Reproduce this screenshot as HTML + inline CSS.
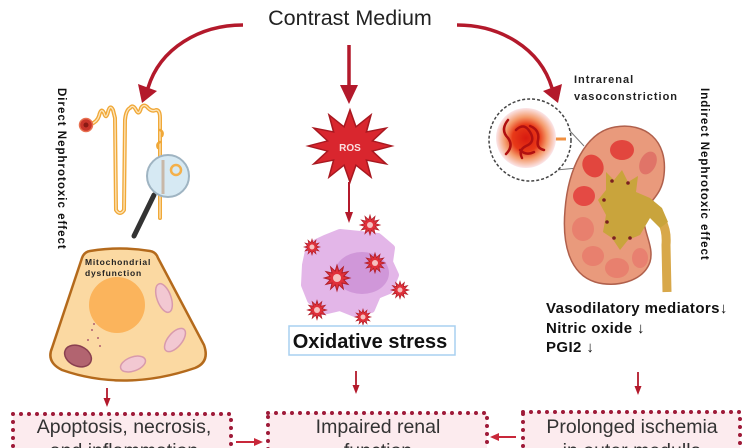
<!DOCTYPE html>
<html><head><meta charset="utf-8"><style>
html,body{margin:0;padding:0;background:#fff;width:750px;height:448px;overflow:hidden}
svg{display:block;overflow:hidden}
text{font-family:"Liberation Sans",Arial,sans-serif}
</style></head><body>
<svg width="750" height="448" viewBox="0 0 750 448" xmlns="http://www.w3.org/2000/svg">
<defs>
<polygon id="st" points="40,0 21.3,5.7 34.6,20 15.6,15.6 20,34.6 5.7,21.3 0,40 -5.7,21.3 -20,34.6 -15.6,15.6 -34.6,20 -21.3,5.7 -40,0 -21.3,-5.7 -34.6,-20 -15.6,-15.6 -20,-34.6 -5.7,-21.3 0,-40 5.7,-21.3 20,-34.6 15.6,-15.6 34.6,-20 21.3,-5.7"/>
<radialGradient id="gl" cx="0.5" cy="0.5" r="0.5">
<stop offset="0" stop-color="#d81a10"/><stop offset="0.45" stop-color="#e83a18"/><stop offset="0.7" stop-color="#f49a6a"/><stop offset="1" stop-color="#fbe6ea"/>
</radialGradient>
<clipPath id="pg"><rect x="0" y="0" width="750" height="448"/></clipPath>
</defs>
<g clip-path="url(#pg)">
<!-- Title -->
<text x="350" y="25" font-size="21.5" fill="#222" text-anchor="middle">Contrast Medium</text>

<!-- main arrows -->
<g fill="none" stroke="#b3192b" stroke-width="3.5">
<path d="M243 25 C200 25 160 48 148 88"/>
<path d="M457 25 C500 25 540 48 552 88"/>
<line x1="349" y1="45" x2="349" y2="88"/>
</g>
<g fill="#b3192b">
<polygon points="142,103 138,84 157,91"/>
<polygon points="558,103 562,84 543,91"/>
<polygon points="349,104 340,85 358,85"/>
</g>

<!-- rotated labels -->
<text transform="translate(58,88) rotate(90)" font-size="11.5" letter-spacing="1" font-weight="bold" fill="#111">Direct Nephrotoxic effect</text>
<text transform="translate(701,88) rotate(90)" font-size="11.5" letter-spacing="1" font-weight="bold" fill="#111">Indirect Nephrotoxic effect</text>

<!-- nephron -->
<g fill="none" stroke-linecap="round" stroke-linejoin="round">
<path d="M91 124 Q97 122 99 116 Q101 107 104 113 Q106 120 108 112 Q110 104 113 110 L115 118 L116 210 Q120 216 124 210 L125 120 Q126 110 130 108 Q133 104 136 110 Q139 116 141 108 Q144 103 148 108 Q152 112 156 110 Q160 110 160 118 L160 218" stroke="#f0a838" stroke-width="4"/>
<path d="M91 124 Q97 122 99 116 Q101 107 104 113 Q106 120 108 112 Q110 104 113 110 L115 118 L116 210 Q120 216 124 210 L125 120 Q126 110 130 108 Q133 104 136 110 Q139 116 141 108 Q144 103 148 108 Q152 112 156 110 Q160 110 160 118 L160 218" stroke="#fde6bc" stroke-width="1.3"/>
<path d="M160 130 q4 2 2 6 M160 142 q-4 2 -2 6" stroke="#f0a838" stroke-width="2.5"/>
</g>
<circle cx="86" cy="125" r="6.5" fill="#c8342a" stroke="#e87050" stroke-width="1.5"/>
<circle cx="86" cy="125" r="2.5" fill="#8a1a14"/>
<line x1="154" y1="195" x2="134" y2="236" stroke="#333" stroke-width="5" stroke-linecap="round"/>
<circle cx="168" cy="176" r="21" fill="#d6e9f3" stroke="#9fb4c2" stroke-width="2"/>
<line x1="163" y1="160" x2="163" y2="194" stroke="#c8b8a8" stroke-width="3"/>
<circle cx="176" cy="170" r="5" fill="none" stroke="#f4b04a" stroke-width="2.5"/>

<!-- cell -->
<path d="M90 251 Q120 246 150 251 Q156 252 158 258 L204 345 Q210 362 195 368 Q125 392 62 370 Q46 362 52 348 L82 258 Q84 252 90 251 Z" fill="#fbd9a2" stroke="#b46a1c" stroke-width="2.5"/>
<circle cx="117" cy="305" r="28" fill="#fbb45c"/>
<g fill="#f2c8d2" stroke="#d89aac" stroke-width="1.5">
<ellipse cx="164" cy="298" rx="7" ry="15" transform="rotate(-20 164 298)"/>
<ellipse cx="175" cy="340" rx="7" ry="14" transform="rotate(40 175 340)"/>
<ellipse cx="133" cy="364" rx="13" ry="7" transform="rotate(-20 133 364)"/>
</g>
<ellipse cx="78" cy="356" rx="14" ry="10" fill="#b26470" stroke="#8a4050" stroke-width="1.5" transform="rotate(25 78 356)"/>
<g fill="#b06070"><circle cx="92" cy="330" r="1"/><circle cx="98" cy="338" r="1"/><circle cx="88" cy="340" r="1"/><circle cx="100" cy="346" r="1"/><circle cx="94" cy="324" r="1"/></g>
<text x="85" y="265" font-size="8.5" letter-spacing="0.8" font-weight="bold" fill="#222">Mitochondrial</text>
<text x="85" y="276" font-size="8.5" letter-spacing="0.8" font-weight="bold" fill="#222">dysfunction</text>

<!-- ROS star -->
<g transform="translate(350,146) scale(1.05,0.9)"><use href="#st" fill="#d9262e" stroke="#a81820" stroke-width="1.5"/></g>
<text x="350" y="151" font-size="10" font-weight="bold" fill="#fbe0e0" text-anchor="middle">ROS</text>
<line x1="349" y1="182" x2="349" y2="214" stroke="#b3192b" stroke-width="2"/>
<polygon points="349,223 345,212 353,212" fill="#b3192b"/>

<!-- purple cell -->
<polygon points="306,265 310,246 325,239 340,233 360,235 378,237 391,248 389,262 395,275 389,290 377,295 371,309 355,313 340,307 323,311 311,300 305,285" fill="#e3b6e8" stroke="#e3b6e8" stroke-width="8" stroke-linejoin="round"/>
<ellipse cx="362" cy="273" rx="27" ry="21" fill="#cc92d6" opacity="0.85"/>
<g fill="#e0303a" stroke="#b01e28" stroke-width="3">
<use href="#st" transform="translate(370,225) scale(0.25)"/>
<use href="#st" transform="translate(312,247) scale(0.2)"/>
<use href="#st" transform="translate(375,263) scale(0.25)"/>
<use href="#st" transform="translate(337,278) scale(0.32)"/>
<use href="#st" transform="translate(400,290) scale(0.22)"/>
<use href="#st" transform="translate(317,310) scale(0.24)"/>
<use href="#st" transform="translate(363,317) scale(0.2)"/>
</g>
<g fill="#f6c0c0"><circle cx="370" cy="225" r="3"/><circle cx="312" cy="247" r="2.5"/><circle cx="375" cy="263" r="3"/><circle cx="337" cy="278" r="4"/><circle cx="400" cy="290" r="2.5"/><circle cx="317" cy="310" r="3"/><circle cx="363" cy="317" r="2.5"/></g>

<!-- oxidative stress -->
<rect x="289" y="326" width="166" height="29" fill="#fff" stroke="#a8d0f0" stroke-width="1.5"/>
<text x="370" y="348" font-size="20" font-weight="bold" fill="#111" text-anchor="middle">Oxidative stress</text>

<!-- right: intrarenal -->
<text x="574" y="83" font-size="11" letter-spacing="1" font-weight="bold" fill="#222">Intrarenal</text>
<text x="574" y="100" font-size="11" letter-spacing="1" font-weight="bold" fill="#222">vasoconstriction</text>
<line x1="556" y1="116" x2="584" y2="146" stroke="#777" stroke-width="1"/>
<line x1="556" y1="170" x2="578" y2="168" stroke="#777" stroke-width="1"/>
<circle cx="530" cy="140" r="41" fill="#fff" stroke="#444" stroke-width="1.5" stroke-dasharray="3 2"/>
<line x1="545" y1="139" x2="566" y2="139" stroke="#f09040" stroke-width="3"/>
<circle cx="526" cy="138" r="30" fill="url(#gl)"/>
<g fill="none" stroke="#b01010" stroke-width="2.5" stroke-linecap="round">
<path d="M508 120 q-8 10 0 18 q6 8 -2 16"/>
<path d="M516 130 q8 -8 14 2 q6 10 -4 14 q-8 4 -4 12"/>
<path d="M530 126 q10 4 8 14 q-2 8 6 10"/>
<path d="M520 150 q6 6 14 2"/>
</g>

<!-- kidney -->
<path d="M615 127 C645 122 668 140 664 175 C662 195 650 200 645 212 C640 228 655 245 650 262 C643 282 615 288 595 282 C570 274 562 245 565 210 C568 170 585 132 615 127 Z" fill="#e99a7c" stroke="#b0604c" stroke-width="1.5"/>
<g>
<ellipse cx="622" cy="150" rx="12" ry="10" fill="#e2463e"/>
<ellipse cx="648" cy="163" rx="8" ry="12" fill="#e07468" transform="rotate(25 648 163)"/>
<ellipse cx="593" cy="166" rx="10" ry="12" fill="#e2463e" transform="rotate(-35 593 166)"/>
<ellipse cx="584" cy="196" rx="11" ry="10" fill="#e44a44"/>
<ellipse cx="583" cy="229" rx="11" ry="12" fill="#e8806e"/>
<ellipse cx="593" cy="256" rx="11" ry="10" fill="#e8806e"/>
<ellipse cx="617" cy="268" rx="12" ry="10" fill="#e8806e"/>
<ellipse cx="640" cy="258" rx="8" ry="10" fill="#e88070"/>
</g>
<path d="M650 210 Q668 220 666 245 L667 292" fill="none" stroke="#d8a84a" stroke-width="9"/>
<polygon points="606,172 614,180 622,170 628,182 638,176 636,192 650,198 662,208 668,222 660,228 650,218 640,235 628,240 620,250 612,238 603,232 606,215 598,200 606,190" fill="#c9a43c"/>
<g fill="#7a2020"><circle cx="612" cy="181" r="1.8"/><circle cx="628" cy="183" r="1.8"/><circle cx="604" cy="200" r="1.8"/><circle cx="607" cy="222" r="1.8"/><circle cx="614" cy="238" r="1.8"/><circle cx="630" cy="238" r="1.8"/></g>

<!-- mediators -->
<text x="546" y="313" font-size="15" letter-spacing="0.4" font-weight="bold" fill="#111">Vasodilatory mediators↓</text>
<text x="546" y="333" font-size="15" letter-spacing="0.4" font-weight="bold" fill="#111">Nitric oxide ↓</text>
<text x="546" y="352" font-size="15" letter-spacing="0.4" font-weight="bold" fill="#111">PGI2 ↓</text>

<!-- small down arrows -->
<g stroke="#b3192b" stroke-width="1.8">
<line x1="107" y1="388" x2="107" y2="400"/>
<line x1="356" y1="371" x2="356" y2="386"/>
<line x1="638" y1="372" x2="638" y2="387"/>
</g>
<g fill="#b3192b">
<polygon points="107,407 103.5,398 110.5,398"/>
<polygon points="356,394 352.5,385 359.5,385"/>
<polygon points="638,395 634.5,386 641.5,386"/>
</g>

<!-- bottom boxes -->
<g fill="#fcebee" stroke="#9e1a38" stroke-width="4" stroke-dasharray="0 8" stroke-linecap="round">
<rect x="13" y="414" width="218" height="38"/>
<rect x="268" y="413" width="219" height="39"/>
<rect x="523" y="412" width="217" height="40"/>
</g>
<g font-size="19.5" fill="#333" text-anchor="middle">
<text x="124" y="433">Apoptosis, necrosis,</text>
<text x="124" y="457">and inflammation</text>
<text x="378" y="433">Impaired renal</text>
<text x="378" y="457">function</text>
<text x="632" y="433">Prolonged ischemia</text>
<text x="632" y="457">in outer medulla</text>
</g>
<g stroke="#c8283a" stroke-width="2">
<line x1="236" y1="442" x2="256" y2="442"/>
<line x1="516" y1="437" x2="497" y2="437"/>
</g>
<g fill="#c8283a">
<polygon points="263,442 254,438 254,446"/>
<polygon points="490,437 499,433 499,441"/>
</g>
</g>
</svg>
</body></html>
